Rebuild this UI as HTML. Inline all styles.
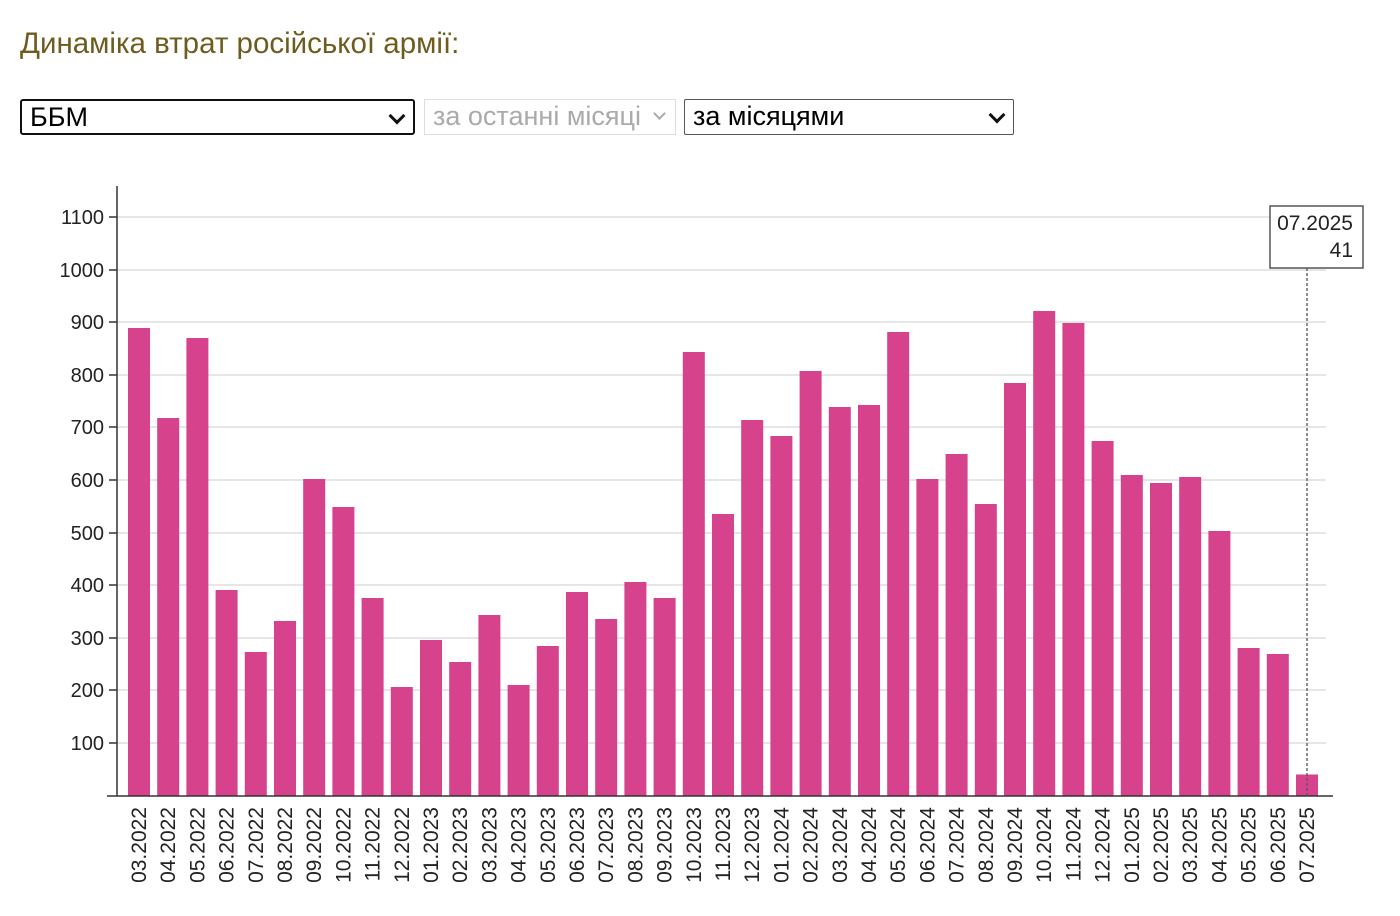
<!DOCTYPE html>
<html><head><meta charset="utf-8"><style>
body{margin:0;background:#fff;width:1400px;height:916px;overflow:hidden;font-family:"Liberation Sans",Arial,sans-serif}
.t{position:absolute;left:20px;top:27px;font-size:29.5px;color:#6e5c1e}
.s{position:absolute;top:99px;height:36px;box-sizing:border-box;font-size:27px;line-height:33px;padding-left:8px}
.c{position:absolute;right:10px;top:9px;width:9px;height:9px;border-right:3px solid #111;border-bottom:3px solid #111;transform:rotate(45deg)}
</style></head><body>
<div class="t">Динаміка втрат російської армії:</div>
<div class="s" style="left:20px;width:395px;border:2px solid #111;border-radius:3px;color:#000">ББМ<span class="c"></span></div>
<div class="s" style="left:424px;width:252px;border:1px solid #ddd;color:#aaa;padding-left:8px">за останні місяці<span class="c" style="border-color:#aaa;border-width:2px;right:11px;width:7px;height:7px"></span></div>
<div class="s" style="left:684px;width:330px;border:1px solid #555;border-radius:2px;color:#000">за місяцями<span class="c"></span></div>
<svg width="1400" height="916" style="position:absolute;left:0;top:0" font-family="Liberation Sans,Arial,sans-serif">
<g stroke="#ddd" stroke-width="1.5">
<line x1="117" x2="1326" y1="217" y2="217"/><line x1="117" x2="1326" y1="270" y2="270"/><line x1="117" x2="1326" y1="322" y2="322"/><line x1="117" x2="1326" y1="375" y2="375"/><line x1="117" x2="1326" y1="427" y2="427"/><line x1="117" x2="1326" y1="480" y2="480"/><line x1="117" x2="1326" y1="533" y2="533"/><line x1="117" x2="1326" y1="585" y2="585"/><line x1="117" x2="1326" y1="638" y2="638"/><line x1="117" x2="1326" y1="690" y2="690"/><line x1="117" x2="1326" y1="743" y2="743"/>
</g>
<g font-size="20" fill="#222" text-anchor="end">
<text x="104" y="224">1100</text><text x="104" y="277">1000</text><text x="104" y="329">900</text><text x="104" y="382">800</text><text x="104" y="434">700</text><text x="104" y="487">600</text><text x="104" y="540">500</text><text x="104" y="592">400</text><text x="104" y="645">300</text><text x="104" y="697">200</text><text x="104" y="750">100</text>
</g>
<g stroke="#333" stroke-width="1.5"><line x1="109" x2="117" y1="217" y2="217"/><line x1="109" x2="117" y1="270" y2="270"/><line x1="109" x2="117" y1="322" y2="322"/><line x1="109" x2="117" y1="375" y2="375"/><line x1="109" x2="117" y1="427" y2="427"/><line x1="109" x2="117" y1="480" y2="480"/><line x1="109" x2="117" y1="533" y2="533"/><line x1="109" x2="117" y1="585" y2="585"/><line x1="109" x2="117" y1="638" y2="638"/><line x1="109" x2="117" y1="690" y2="690"/><line x1="109" x2="117" y1="743" y2="743"/></g>
<g fill="#d6428b">
<rect x="128" y="328" width="22" height="468"/>
<rect x="157.2" y="418" width="22" height="378"/>
<rect x="186.4" y="338" width="22" height="458"/>
<rect x="215.6" y="590" width="22" height="206"/>
<rect x="244.8" y="652" width="22" height="144"/>
<rect x="274" y="621" width="22" height="175"/>
<rect x="303.2" y="479" width="22" height="317"/>
<rect x="332.4" y="507" width="22" height="289"/>
<rect x="361.6" y="598" width="22" height="198"/>
<rect x="390.8" y="687" width="22" height="109"/>
<rect x="420" y="640" width="22" height="156"/>
<rect x="449.2" y="662" width="22" height="134"/>
<rect x="478.4" y="615" width="22" height="181"/>
<rect x="507.6" y="685" width="22" height="111"/>
<rect x="536.8" y="646" width="22" height="150"/>
<rect x="566" y="592" width="22" height="204"/>
<rect x="595.2" y="619" width="22" height="177"/>
<rect x="624.4" y="582" width="22" height="214"/>
<rect x="653.6" y="598" width="22" height="198"/>
<rect x="682.8" y="352" width="22" height="444"/>
<rect x="712" y="514" width="22" height="282"/>
<rect x="741.2" y="420" width="22" height="376"/>
<rect x="770.4" y="436" width="22" height="360"/>
<rect x="799.6" y="371" width="22" height="425"/>
<rect x="828.8" y="407" width="22" height="389"/>
<rect x="858" y="405" width="22" height="391"/>
<rect x="887.2" y="332" width="22" height="464"/>
<rect x="916.4" y="479" width="22" height="317"/>
<rect x="945.6" y="454" width="22" height="342"/>
<rect x="974.8" y="504" width="22" height="292"/>
<rect x="1004" y="383" width="22" height="413"/>
<rect x="1033.2" y="311" width="22" height="485"/>
<rect x="1062.4" y="323" width="22" height="473"/>
<rect x="1091.6" y="441" width="22" height="355"/>
<rect x="1120.8" y="475" width="22" height="321"/>
<rect x="1150" y="483" width="22" height="313"/>
<rect x="1179.2" y="477" width="22" height="319"/>
<rect x="1208.4" y="531" width="22" height="265"/>
<rect x="1237.6" y="648" width="22" height="148"/>
<rect x="1266.8" y="654" width="22" height="142"/>
<rect x="1296" y="774.5" width="22" height="21.5"/>
</g>
<line x1="117" x2="117" y1="186" y2="796" stroke="#333" stroke-width="1.5"/>
<line x1="107" x2="1333" y1="796" y2="796" stroke="#333" stroke-width="1.5"/>
<line x1="1307" x2="1307" y1="268" y2="796" stroke="#555" stroke-width="1.3" stroke-dasharray="3,2"/>
<rect x="1270" y="206" width="93" height="62" fill="#fff" stroke="#555" stroke-width="1.5"/>
<text x="1353" y="230" font-size="21" fill="#222" text-anchor="end">07.2025</text>
<text x="1353" y="257" font-size="21" fill="#222" text-anchor="end">41</text>
<g font-size="21" fill="#222" text-anchor="end">
<text transform="translate(146,807) rotate(-90)">03.2022</text>
<text transform="translate(175.2,807) rotate(-90)">04.2022</text>
<text transform="translate(204.4,807) rotate(-90)">05.2022</text>
<text transform="translate(233.6,807) rotate(-90)">06.2022</text>
<text transform="translate(262.8,807) rotate(-90)">07.2022</text>
<text transform="translate(292,807) rotate(-90)">08.2022</text>
<text transform="translate(321.2,807) rotate(-90)">09.2022</text>
<text transform="translate(350.4,807) rotate(-90)">10.2022</text>
<text transform="translate(379.6,807) rotate(-90)">11.2022</text>
<text transform="translate(408.8,807) rotate(-90)">12.2022</text>
<text transform="translate(438,807) rotate(-90)">01.2023</text>
<text transform="translate(467.2,807) rotate(-90)">02.2023</text>
<text transform="translate(496.4,807) rotate(-90)">03.2023</text>
<text transform="translate(525.6,807) rotate(-90)">04.2023</text>
<text transform="translate(554.8,807) rotate(-90)">05.2023</text>
<text transform="translate(584,807) rotate(-90)">06.2023</text>
<text transform="translate(613.2,807) rotate(-90)">07.2023</text>
<text transform="translate(642.4,807) rotate(-90)">08.2023</text>
<text transform="translate(671.6,807) rotate(-90)">09.2023</text>
<text transform="translate(700.8,807) rotate(-90)">10.2023</text>
<text transform="translate(730,807) rotate(-90)">11.2023</text>
<text transform="translate(759.2,807) rotate(-90)">12.2023</text>
<text transform="translate(788.4,807) rotate(-90)">01.2024</text>
<text transform="translate(817.6,807) rotate(-90)">02.2024</text>
<text transform="translate(846.8,807) rotate(-90)">03.2024</text>
<text transform="translate(876,807) rotate(-90)">04.2024</text>
<text transform="translate(905.2,807) rotate(-90)">05.2024</text>
<text transform="translate(934.4,807) rotate(-90)">06.2024</text>
<text transform="translate(963.6,807) rotate(-90)">07.2024</text>
<text transform="translate(992.8,807) rotate(-90)">08.2024</text>
<text transform="translate(1022,807) rotate(-90)">09.2024</text>
<text transform="translate(1051.2,807) rotate(-90)">10.2024</text>
<text transform="translate(1080.4,807) rotate(-90)">11.2024</text>
<text transform="translate(1109.6,807) rotate(-90)">12.2024</text>
<text transform="translate(1138.8,807) rotate(-90)">01.2025</text>
<text transform="translate(1168,807) rotate(-90)">02.2025</text>
<text transform="translate(1197.2,807) rotate(-90)">03.2025</text>
<text transform="translate(1226.4,807) rotate(-90)">04.2025</text>
<text transform="translate(1255.6,807) rotate(-90)">05.2025</text>
<text transform="translate(1284.8,807) rotate(-90)">06.2025</text>
<text transform="translate(1314,807) rotate(-90)">07.2025</text>
</g>
</svg>
</body></html>
